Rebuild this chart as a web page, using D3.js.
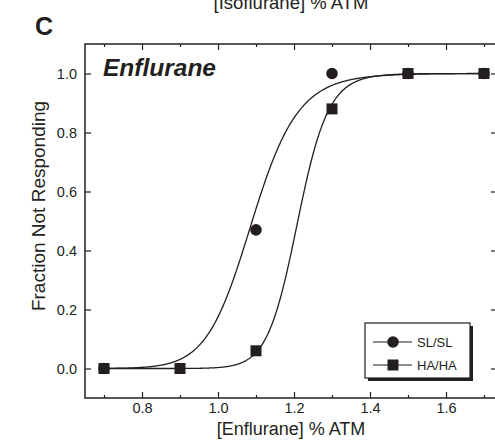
<!DOCTYPE html>
<html><head><meta charset="utf-8">
<script src="https://cdn.jsdelivr.net/npm/d3@7"></script>
<style>body{margin:0;background:#fff}svg{display:block}text{font-family:"Liberation Sans",Arial,sans-serif;fill:#231f20}</style>
</head><body><svg id="c" width="495" height="440"></svg>
<script>
// Data
const seriesNames = ["SL/SL", "HA/HA"];
const slConc = [0.7, 1.1, 1.3, 1.5, 1.7];
const slFrac = [0.0, 0.47, 1.0, 1.0, 1.0];
const haConc = [0.7, 0.9, 1.1, 1.3, 1.5, 1.7];
const haFrac = [0.0, 0.0, 0.06, 0.88, 1.0, 1.0];
// fitted Hill curve parameters [EC50, slope] per series
const fitEC50 = [1.09, 1.21];
const fitHill = [18, 30];
const xTicks = [0.8, 1.0, 1.2, 1.4, 1.6];
const xMinor = [0.7, 0.9, 1.1, 1.3, 1.5, 1.7];
const yTicks = [0.0, 0.2, 0.4, 0.6, 0.8, 1.0];

const svg = d3.select("#c");
const L = 85, R = 497, T = 44, B = 398;
const x = d3.scaleLinear().domain([0.65, 0.65 + (R - L) / 380]).range([L, R]);
const y = d3.scaleLinear().domain([-0.1, 1.1]).range([B, T]);
const ink = "#231f20";

// top cut-off title from upper panel
svg.append("text").attr("x", 291).attr("y", 9).attr("text-anchor", "middle")
  .style("font-size", "18.5px").text("[Isoflurane] % ATM");
svg.append("text").attr("x", 35).attr("y", 35).style("font-size", "25px").style("font-weight", "bold").text("C");

// frame
svg.append("rect").attr("x", L).attr("y", T).attr("width", R - L).attr("height", B - T)
  .attr("fill", "none").attr("stroke", ink).attr("stroke-width", 1.5);

// axes with inward ticks
const axB = svg.append("g").attr("transform", `translate(0,${B})`)
  .call(d3.axisTop(x).tickValues(xTicks).tickSize(6).tickFormat(d3.format(".1f")));
const axBm = svg.append("g").attr("transform", `translate(0,${B})`)
  .call(d3.axisTop(x).tickValues(xMinor).tickSize(3).tickFormat(""));
const axT = svg.append("g").attr("transform", `translate(0,${T})`)
  .call(d3.axisBottom(x).tickValues(xTicks).tickSize(6).tickFormat(""));
const axTm = svg.append("g").attr("transform", `translate(0,${T})`)
  .call(d3.axisBottom(x).tickValues(xMinor).tickSize(3).tickFormat(""));
const axL = svg.append("g").attr("transform", `translate(${L},0)`)
  .call(d3.axisRight(y).tickValues(yTicks).tickSize(6).tickFormat(d3.format(".1f")));
const axR = svg.append("g").attr("transform", `translate(${R},0)`)
  .call(d3.axisLeft(y).tickValues(yTicks).tickSize(6).tickFormat(""));
[axB, axBm, axT, axTm, axL, axR].forEach(g => {
  g.select(".domain").remove();
  g.selectAll("line").attr("stroke", ink).attr("stroke-width", 1.2);
  g.selectAll("text").style("font-size", "14.5px").attr("fill", ink).style("font-family", "Liberation Sans, Arial, sans-serif");
});
axB.selectAll("text").attr("y", 5).attr("dy", "0.71em");
axL.selectAll("text").attr("x", -8).attr("text-anchor", "end").attr("dy", "0.35em");

// axis titles
svg.append("text").attr("x", 291).attr("y", 435).attr("text-anchor", "middle")
  .style("font-size", "18px").text("[Enflurane] % ATM");
svg.append("text").attr("transform", "translate(45,206) rotate(-90)").attr("text-anchor", "middle")
  .style("font-size", "19px").text("Fraction Not Responding");
svg.append("text").attr("x", 103).attr("y", 76).style("font-size", "24.5px")
  .style("font-weight", "bold").style("font-style", "italic").text("Enflurane");

// fitted curves
const line = d3.line().x(d => x(d[0])).y(d => y(d[1]));
fitEC50.forEach((ec, i) => {
  const pts = d3.range(0.7, 1.7001, 0.002).map(c => [c, 1 / (1 + Math.pow(ec / c, fitHill[i]))]);
  svg.append("path").attr("d", line(pts)).attr("fill", "none").attr("stroke", ink).attr("stroke-width", 1.3);
});

// markers
const sq = 11, cr = 5.8;
svg.selectAll(".sl").data(slConc).enter().append("circle")
  .attr("cx", d => x(d)).attr("cy", (d, i) => y(slFrac[i])).attr("r", cr).attr("fill", ink);
svg.selectAll(".ha").data(haConc).enter().append("rect")
  .attr("x", d => x(d) - sq / 2).attr("y", (d, i) => y(haFrac[i]) - sq / 2)
  .attr("width", sq).attr("height", sq).attr("fill", ink);

// legend
const lg = svg.append("g");
lg.append("rect").attr("x", 368).attr("y", 326).attr("width", 105).attr("height", 55).attr("fill", ink);
lg.append("rect").attr("x", 365).attr("y", 323).attr("width", 105).attr("height", 55).attr("fill", "#fff").attr("stroke", ink).attr("stroke-width", 1.2);
seriesNames.forEach((n, i) => {
  const yy = 342 + i * 23;
  lg.append("line").attr("x1", 373).attr("x2", 412).attr("y1", yy).attr("y2", yy).attr("stroke", ink).attr("stroke-width", 1.2);
  if (i === 0) lg.append("circle").attr("cx", 393).attr("cy", yy).attr("r", cr).attr("fill", ink);
  else lg.append("rect").attr("x", 393 - sq / 2).attr("y", yy - sq / 2).attr("width", sq).attr("height", sq).attr("fill", ink);
  lg.append("text").attr("x", 417).attr("y", yy).attr("dy", "0.35em").style("font-size", "13px").text(n);
});
</script></body></html>
